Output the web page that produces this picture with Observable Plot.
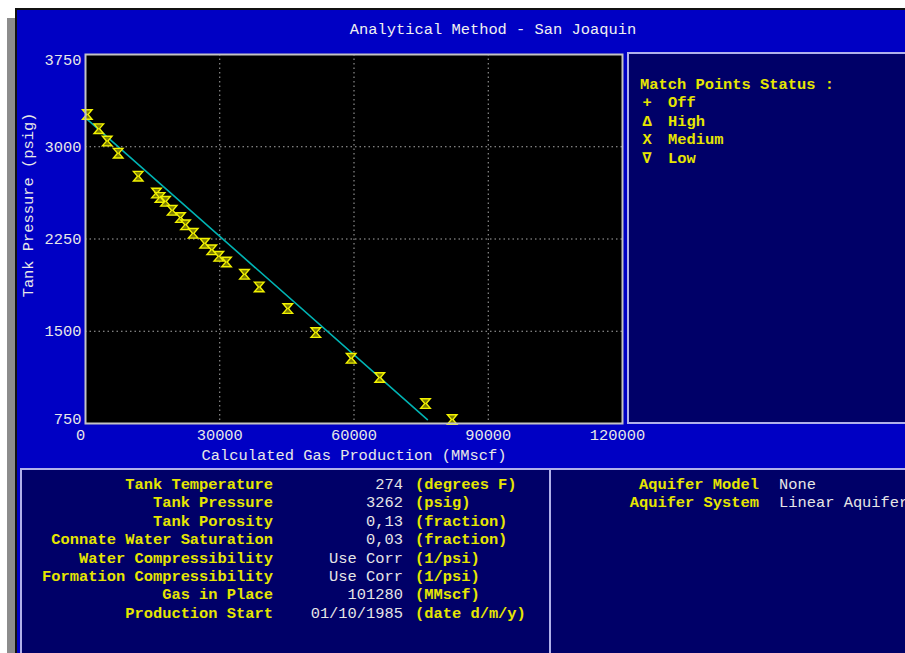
<!DOCTYPE html>
<html><head><meta charset="utf-8">
<script src="https://cdn.jsdelivr.net/npm/d3@7"></script>
<script src="https://cdn.jsdelivr.net/npm/@observablehq/plot@0.6"></script>
<style>
body{margin:0;width:905px;height:653px;overflow:hidden;position:relative;background:#fff;font-family:'Liberation Mono','DejaVu Sans Mono',monospace;font-size:15.4px}
.abs{position:absolute;white-space:pre;line-height:18.4px}
.yl{color:#e6e600;font-weight:bold}
.wt{color:#e6e6e6}
.panel{position:absolute;background:#000068;border:2px solid #b0b0ea;box-sizing:border-box;overflow:hidden}
</style></head>
<body>
<div class="abs" style="left:7px;top:18px;width:9px;height:640px;background:#8c8c8c"></div>
<div class="abs" style="left:15px;top:8px;width:895px;height:650px;background:#0000c4;border-top:2px solid #111;border-left:2px solid #111;box-sizing:border-box"></div>
<div class="abs wt" id="title" style="left:0;width:986px;text-align:center;top:21px;color:#f0f0f0"></div>
<div id="chart" class="abs" style="left:0;top:0"></div>
<div class="panel" style="left:627px;top:52px;width:290px;height:372px"></div>
<div class="panel" style="left:20px;top:468px;width:531px;height:195px"></div>
<div class="panel" style="left:549px;top:468px;width:370px;height:195px"></div>
<div id="texts"></div>
<script>
// ---- data ----
const title = "Analytical Method - San Joaquin";
const xLabel = "Calculated Gas Production (MMscf)";
const yLabel = "Tank Pressure (psig)";
const xTicks = [0, 30000, 60000, 90000, 120000];
const yTicks = [750, 1500, 2250, 3000, 3750];
const gasProduction = [400, 2970, 4850, 7310, 11780, 15870, 16650, 17880, 19370, 21230, 22350, 24070, 26640, 28220, 29790, 31510, 35530, 38820, 45210, 51460, 59370, 65760, 75980, 81940];
const tankPressure  = [3262, 3147, 3046, 2948, 2761, 2623, 2588, 2556, 2483, 2424, 2365, 2296, 2215, 2162, 2109, 2063, 1963, 1860, 1684, 1489, 1280, 1124, 912, 782];
const fitX = [0, 76400];
const fitY = [3235, 782];
const legendTitle = "Match Points Status :";
const legendSymbols = ["+", "Δ", "X", "∇"];
const legendLabels = ["Off", "High", "Medium", "Low"];
const paramLabels = ["Tank Temperature", "Tank Pressure", "Tank Porosity", "Connate Water Saturation", "Water Compressibility", "Formation Compressibility", "Gas in Place", "Production Start"];
const paramValues = ["274", "3262", "0,13", "0,03", "Use Corr", "Use Corr", "101280", "01/10/1985"];
const paramUnits = ["(degrees F)", "(psig)", "(fraction)", "(fraction)", "(1/psi)", "(1/psi)", "(MMscf)", "(date d/m/y)"];
const aquiferLabels = ["Aquifer Model", "Aquifer System"];
const aquiferValues = ["None", "Linear Aquifer"];

const points = gasProduction.map((x, i) => ({x, y: tankPressure[i]}));
const fit = fitX.map((x, i) => ({x, y: fitY[i]}));

const hourglass = {
  draw(ctx, size) {
    const r = Math.sqrt(size / Math.PI);
    ctx.moveTo(-r, -r); ctx.lineTo(r, -r); ctx.lineTo(r * 0.15, 0);
    ctx.lineTo(r, r); ctx.lineTo(-r, r); ctx.lineTo(-r * 0.15, 0); ctx.closePath();
  }
};
const fmt = d3.format("d");
const white = "#e8e8e8";
const inner = v => v.slice(1, -1);

const plot = Plot.plot({
  width: 660, height: 470,
  marginLeft: 85, marginTop: 54, marginRight: 38, marginBottom: 47,
  style: {background: "transparent", color: white, fontFamily: "'Liberation Mono','DejaVu Sans Mono',monospace", fontSize: "15.4px"},
  x: {domain: [xTicks[0], xTicks[xTicks.length - 1]], axis: null},
  y: {domain: [yTicks[0], yTicks[yTicks.length - 1]], axis: null},
  marks: [
    Plot.frame({fill: "black"}),
    Plot.gridX({ticks: inner(xTicks), stroke: "#a8a8a8", strokeOpacity: 1, strokeDasharray: "1.5,3"}),
    Plot.gridY({ticks: inner(yTicks), stroke: "#a8a8a8", strokeOpacity: 1, strokeDasharray: "1.5,3"}),
    Plot.line(fit, {x: "x", y: "y", stroke: "#00b4b4", strokeWidth: 1.6}),
    Plot.dot(points, {x: "x", y: "y", symbol: hourglass, r: 4.8, stroke: "#f2f200", fill: "#7c7c00", strokeWidth: 1.4}),
    Plot.frame({stroke: "#c4c4c4", strokeWidth: 2}),
    Plot.axisY({ticks: inner(yTicks), tickSize: 0, tickPadding: 4, label: null, tickFormat: fmt, fill: white}),
    Plot.axisY({ticks: [yTicks[yTicks.length - 1]], tickSize: 0, tickPadding: 4, label: null, tickFormat: fmt, lineAnchor: "top", fill: white}),
    Plot.axisY({ticks: [yTicks[0]], tickSize: 0, tickPadding: 4, label: null, tickFormat: fmt, lineAnchor: "bottom", fill: white}),
    Plot.axisX({ticks: inner(xTicks), tickSize: 0, tickPadding: 6, label: null, tickFormat: fmt, fill: white}),
    Plot.axisX({ticks: [xTicks[0], xTicks[xTicks.length - 1]], tickSize: 0, tickPadding: 6, label: null, tickFormat: fmt, dx: -5, fill: white}),
    Plot.text([xLabel], {text: d => d, frameAnchor: "bottom", dy: 36, fill: white}),
    Plot.text([yLabel], {text: d => d, frameAnchor: "left", textAnchor: "middle", rotate: -90, dx: -57, dy: -34, fill: white})
  ]
});
document.getElementById("chart").appendChild(plot);
document.getElementById("title").textContent = title;

const T = document.getElementById("texts");
function put(txt, cls, css) {
  const d = document.createElement("div");
  d.className = "abs " + cls;
  d.style.cssText = css;
  d.textContent = txt;
  T.appendChild(d);
}
// legend
put(legendTitle, "yl", "left:640px;top:76px");
legendSymbols.forEach((s, i) => {
  put(s, "yl", `left:641px;width:12px;text-align:center;top:${94 + i * 18.6}px`);
  put(legendLabels[i], "yl", `left:668px;top:${94 + i * 18.6}px`);
});
// parameter table
paramLabels.forEach((l, i) => {
  const top = 476 + i * 18.4;
  put(l, "yl", `left:0;width:273px;text-align:right;top:${top}px`);
  put(paramValues[i], "wt", `left:280px;width:123px;text-align:right;top:${top}px`);
  put(paramUnits[i], "yl", `left:415px;top:${top}px`);
});
aquiferLabels.forEach((l, i) => {
  const top = 476 + i * 18.4;
  put(l, "yl", `left:560px;width:199px;text-align:right;top:${top}px`);
  put(aquiferValues[i], "wt", `left:779px;top:${top}px`);
});
</script>
</body></html>
